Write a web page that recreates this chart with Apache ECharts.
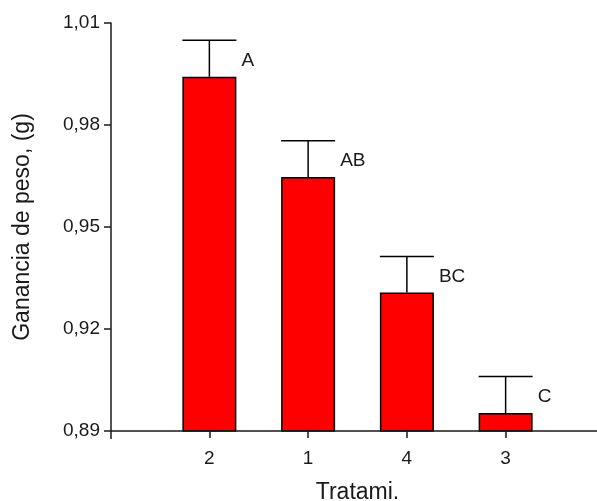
<!DOCTYPE html>
<html><head><meta charset="utf-8">
<script src="https://cdn.jsdelivr.net/npm/echarts@6/dist/echarts.min.js"></script>
<style>html,body{margin:0;padding:0;background:#fff}#c{width:597px;height:501px}</style>
</head><body><div id="c"></div>
<script>
const categories = ['2', '1', '4', '3'];
const means = [0.9942, 0.9647, 0.9307, 0.8953];
const errUpper = [1.0049, 0.9754, 0.9413, 0.9060];
const letters = ['A', 'AB', 'BC', 'C'];
const yMin = 0.89, yMax = 1.01, yStep = 0.03;

const FONT = '"Liberation Sans", Arial, sans-serif';
const INK = '#1a1a1a';
const BAR_W = 54;

const chart = echarts.init(document.getElementById('c'));
chart.setOption({
  animation: false,
  backgroundColor: '#fff',
  grid: [
    {left: 111, right: 0, top: 23, bottom: 70, containLabel: false, outerBoundsMode: 'none'},
    {left: 160, right: 42, top: 23, bottom: 70, containLabel: false, outerBoundsMode: 'none'}
  ],
  xAxis: [
    {gridIndex: 0, type: 'value', min: 0, max: 1, interval: 1, z: 5,
     axisLine: {show: true, lineStyle: {color: INK, width: 1.5}},
     axisTick: {show: true, length: 8, customValues: [0], lineStyle: {color: INK, width: 1.5}},
     axisLabel: {show: false}, splitLine: {show: false}},
    {gridIndex: 1, type: 'category', data: categories, z: 5,
     name: 'Tratami.', nameLocation: 'middle', nameGap: 50,
     nameTextStyle: {fontFamily: FONT, fontSize: 23, color: INK},
     axisLine: {show: false},
     axisTick: {show: true, alignWithLabel: true, length: 7, lineStyle: {color: INK, width: 1.5}},
     axisLabel: {fontFamily: FONT, fontSize: 19, color: INK, margin: 18},
     splitLine: {show: false}}
  ],
  yAxis: [
    {gridIndex: 0, type: 'value', min: yMin, max: yMax, interval: yStep, z: 5,
     name: 'Ganancia de peso, (g)', nameLocation: 'middle', nameGap: 77,
     nameTextStyle: {fontFamily: FONT, fontSize: 23, color: INK},
     axisLine: {show: true, lineStyle: {color: INK, width: 1.5}},
     axisTick: {show: true, length: 7, lineStyle: {color: INK, width: 1.5}},
     axisLabel: {fontFamily: FONT, fontSize: 19, color: INK, margin: 11,
       formatter: v => v.toFixed(2).replace('.', ',')},
     splitLine: {show: false}},
    {gridIndex: 1, type: 'value', min: yMin, max: yMax, interval: yStep, show: false}
  ],
  series: [
    {type: 'bar', xAxisIndex: 1, yAxisIndex: 1, data: means, barWidth: BAR_W,
     itemStyle: {color: '#ff0000', borderColor: '#000', borderWidth: 1.5}, z: 2},
    {type: 'custom', xAxisIndex: 1, yAxisIndex: 1, z: 3,
     data: categories.map((c, i) => [i, means[i], errUpper[i]]),
     renderItem: (params, api) => {
       const i = api.value(0);
       const pMean = api.coord([i, api.value(1)]);
       const pUp = api.coord([i, api.value(2)]);
       const hw = BAR_W / 2;
       const st = {stroke: '#000', lineWidth: 1.5, fill: null};
       return {type: 'group', children: [
         {type: 'line', shape: {x1: pMean[0], y1: pMean[1], x2: pUp[0], y2: pUp[1]}, style: st},
         {type: 'line', shape: {x1: pUp[0] - hw, y1: pUp[1], x2: pUp[0] + hw, y2: pUp[1]}, style: st},
         {type: 'text', x: pUp[0] + hw + 5, y: (pMean[1] + pUp[1]) / 2 + 2,
          style: {text: letters[params.dataIndex], fontFamily: FONT, fontSize: 19, fill: INK,
                  align: 'left', verticalAlign: 'middle'}}
       ]};
     }}
  ]
});
</script></body></html>
